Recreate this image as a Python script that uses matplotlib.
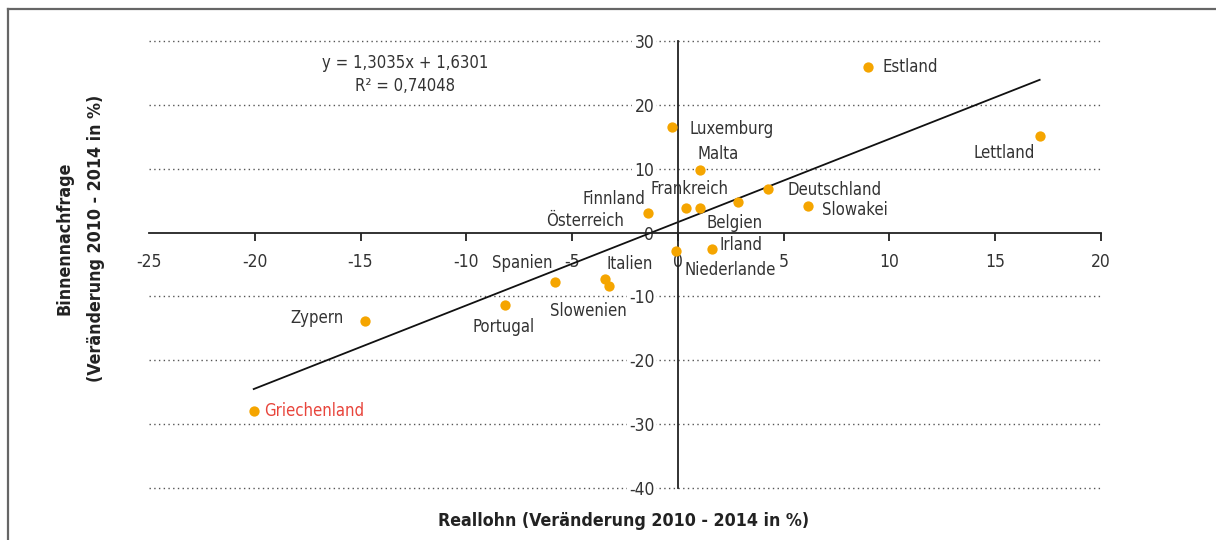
import matplotlib
matplotlib.use("Agg")
import matplotlib.pyplot as plt
from matplotlib.lines import Line2D

plt.rcParams['font.family'] = ['DejaVu Sans']
plt.rcParams['font.stretch'] = 'condensed'
plt.rcParams['axes.unicode_minus'] = False

# ---- data ----
countries = ['Estland', 'Lettland', 'Luxemburg', 'Malta', 'Deutschland', 'Slowakei',
             'Belgien', 'Frankreich', 'Österreich', 'Finnland', 'Irland', 'Niederlande',
             'Italien', 'Slowenien', 'Spanien', 'Portugal', 'Zypern', 'Griechenland']
reallohn = [9.0, 17.1, -0.3, 1.05, 4.25, 6.15,
            2.85, 1.05, 0.4, -1.4, 1.6, -0.1,
            -3.45, -3.25, -5.8, -8.15, -14.8, -20.05]
binnennachfrage = [25.9, 15.2, 16.5, 9.8, 6.9, 4.1,
                   4.8, 3.9, 3.9, 3.0, -2.6, -2.9,
                   -7.3, -8.3, -7.7, -11.3, -13.8, -28.0]
slope, intercept = 1.3035, 1.6301
r2_text = '0,74048'
x_ticks = [-25, -20, -15, -10, -5, 0, 5, 10, 15, 20]
y_ticks = [-40, -30, -20, -10, 0, 10, 20, 30]
fit_range = [-20.05, 17.1]

# label placement: offset in pixels, horizontal alignment
label_pos = {
    'Estland': (14, 0, 'left'), 'Lettland': (-5, -17, 'right'),
    'Luxemburg': (18, -2, 'left'), 'Malta': (18, 16, 'center'),
    'Deutschland': (20, -1, 'left'), 'Slowakei': (14, -4, 'left'),
    'Belgien': (-4, -21, 'center'), 'Frankreich': (-11, 19, 'center'),
    'Österreich': (-62, -13, 'right'), 'Finnland': (-3, 14, 'right'),
    'Irland': (8, 4, 'left'), 'Niederlande': (54, -19, 'center'),
    'Italien': (25, 15, 'center'), 'Slowenien': (-21, -25, 'center'),
    'Spanien': (-3, 19, 'right'), 'Portugal': (-2, -22, 'center'),
    'Zypern': (-21, 3, 'right'), 'Griechenland': (10, 0, 'left'),
}

W, H = 1216, 540
fig = plt.figure(figsize=(W / 100, H / 100), dpi=100)
ax = fig.add_axes([149 / W, (H - 488) / H, 952 / W, 447 / H])
ax.set_xlim(-25, 20)
ax.set_ylim(-40, 30)

text_col = '#333333'
dot_col = '#F5A500'
fs = 12

# gridlines (dotted)
for yv in y_ticks:
    if yv != 0:
        ax.axhline(yv, color='#555555', lw=1.0, ls=(0, (1, 2.4)), zorder=1, clip_on=False)

# axes through zero
for side in ['top', 'right']:
    ax.spines[side].set_visible(False)
ax.spines['left'].set_position(('data', 0))
ax.spines['bottom'].set_position(('data', 0))
for side in ['left', 'bottom']:
    ax.spines[side].set_color('#222222')
    ax.spines[side].set_linewidth(1.3)

ax.set_xticks(x_ticks)
ax.set_xticklabels([str(v) for v in x_ticks])
ax.set_yticks(y_ticks)
ax.set_yticklabels([str(v) for v in y_ticks])
ax.tick_params(axis='x', direction='out', length=6, width=1.3, color='#222222',
               pad=9, labelsize=fs + 0.5, labelcolor=text_col)
ax.tick_params(axis='y', length=0, pad=17, labelsize=fs + 0.5, labelcolor=text_col)
ax.xaxis.get_major_ticks()[0].tick1line.set_visible(False)
for lbl in ax.get_xticklabels() + ax.get_yticklabels():
    lbl.set_bbox(dict(facecolor='white', edgecolor='none', pad=1.5))

# regression line
xs = fit_range
ys = [slope * v + intercept for v in xs]
ax.plot(xs, ys, color='#111111', lw=1.3, zorder=2)

# points
ax.scatter(reallohn, binnennachfrage, s=55, color=dot_col, zorder=4, linewidths=0)

for c, xv, yv in zip(countries, reallohn, binnennachfrage):
    dx, dy, ha = label_pos[c]
    col = '#E8453C' if c == 'Griechenland' else text_col
    ax.annotate(c, (xv, yv), xytext=(dx, dy), textcoords='offset pixels',
                ha=ha, va='center', fontsize=fs, color=col, zorder=5)

ax.text(-12.9, 26.6, 'y = 1,3035x + 1,6301', ha='center', va='center',
        fontsize=fs, color=text_col)
ax.text(-12.9, 23.0, 'R² = ' + r2_text, ha='center', va='center',
        fontsize=fs, color=text_col)

fig.text(624 / W, 1 - 521 / H, 'Reallohn (Veränderung 2010 - 2014 in %)',
         ha='center', va='center', fontsize=12.8, fontweight='bold', color='#222222')
fig.text(80 / W, 1 - 238 / H, 'Binnennachfrage\n(Veränderung 2010 - 2014 in %)',
         ha='center', va='center', rotation=90, fontsize=12.8, fontweight='bold',
         color='#222222', multialignment='center', linespacing=1.95)

# frame
fig.add_artist(Line2D([8 / W, 1], [1 - 9 / H, 1 - 9 / H], transform=fig.transFigure,
                      color='#666666', lw=1.6))
fig.add_artist(Line2D([8 / W, 8 / W], [0, 1 - 9 / H], transform=fig.transFigure,
                      color='#666666', lw=1.6))

fig.savefig('out.png', dpi=100)
